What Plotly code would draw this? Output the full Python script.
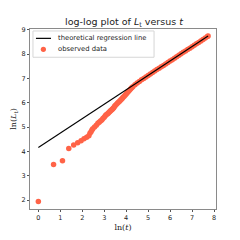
import plotly.graph_objects as go

# observed data (ln t, ln L_t)
obs_x = [0.0, 0.693, 1.099, 1.386, 1.609, 1.792, 1.946, 2.079,
         2.20, 2.30, 2.35, 2.40, 2.44, 2.48, 2.56, 2.64, 2.71, 2.77, 2.83, 2.89, 2.94,
         3.00, 3.05, 3.09, 3.14, 3.18, 3.22, 3.26, 3.30, 3.33, 3.37, 3.40, 3.43, 3.47,
         3.50, 3.56, 3.61, 3.66, 3.71, 3.76, 3.81, 3.85, 3.90, 3.95, 4.00, 4.05, 4.10,
         4.15, 4.20, 4.25, 4.30, 4.40, 4.50, 4.60, 4.70, 4.80, 4.90, 5.00, 5.10, 5.20,
         5.30, 5.40, 5.50, 5.60, 5.70, 5.80, 5.90, 6.00, 6.10, 6.20, 6.30, 6.40, 6.50,
         6.60, 6.70, 6.80, 6.90, 7.00, 7.10, 7.20, 7.30, 7.40, 7.50, 7.60, 7.70, 7.73]
obs_y = [1.94, 3.46, 3.61, 4.12, 4.26, 4.35, 4.44, 4.52,
         4.58, 4.64, 4.74, 4.81, 4.88, 4.93, 5.00, 5.07, 5.16, 5.20, 5.25, 5.29, 5.35,
         5.40, 5.46, 5.50, 5.54, 5.57, 5.61, 5.64, 5.68, 5.70, 5.73, 5.76, 5.79, 5.84,
         5.88, 5.94, 5.99, 6.03, 6.07, 6.12, 6.16, 6.21, 6.26, 6.31, 6.36, 6.41, 6.46,
         6.51, 6.56, 6.61, 6.66, 6.74, 6.81, 6.87, 6.94, 7.00, 7.06, 7.12, 7.18, 7.24,
         7.30, 7.36, 7.42, 7.48, 7.53, 7.59, 7.65, 7.71, 7.77, 7.83, 7.89, 7.95, 8.01,
         8.07, 8.13, 8.19, 8.24, 8.30, 8.36, 8.42, 8.48, 8.54, 8.60, 8.66, 8.72, 8.74]

# theoretical regression line endpoints
line_x = [0.0, 7.73]
line_y = [4.16, 8.74]

x_ticks = [0, 1, 2, 3, 4, 5, 6, 7, 8]
y_ticks = [2, 3, 4, 5, 6, 7, 8, 9]

legend_labels = ["theoretical regression line", "observed data"]
LINE_COLOR = "black"
DOT_COLOR = "#ff6347"

fig = go.Figure()
# scatter first so the line sits on top (matplotlib z-order)
fig.add_trace(go.Scatter(x=obs_x, y=obs_y, mode="markers",
                         marker=dict(color=DOT_COLOR, size=5.5, line=dict(width=0)),
                         name=legend_labels[1], showlegend=False))
fig.add_trace(go.Scatter(x=line_x, y=line_y, mode="lines",
                         line=dict(color=LINE_COLOR, width=1.1),
                         name=legend_labels[0], showlegend=False))

axis_common = dict(showgrid=False, zeroline=False, showline=True, mirror=True,
                   linecolor="#8a8a8a", linewidth=1.2, ticks="outside", ticklen=2,
                   tickcolor="#555", automargin=False,
                   tickfont=dict(size=6.5, color="#222", family="DejaVu Sans"))

# compact legend drawn in paper coordinates (matplotlib-like)
row_y = [0.948, 0.887]
fig.add_shape(type="rect", xref="paper", yref="paper", x0=0.016, x1=0.667,
              y0=0.843, y1=0.989, line=dict(color="#d6d6d6", width=1),
              fillcolor="rgba(255,255,255,0.85)", layer="above")
fig.add_shape(type="line", xref="paper", yref="paper", x0=0.032, x1=0.113,
              y0=row_y[0], y1=row_y[0], line=dict(color=LINE_COLOR, width=1.2),
              layer="above")
fig.add_shape(type="circle", xref="paper", yref="paper", x0=0.058, x1=0.086,
              y0=row_y[1] - 0.0145, y1=row_y[1] + 0.0145,
              line=dict(width=0), fillcolor=DOT_COLOR, layer="above")
for lab, yy in zip(legend_labels, row_y):
    fig.add_annotation(text=lab, xref="paper", yref="paper", x=0.14, y=yy,
                       xanchor="left", yanchor="middle", showarrow=False,
                       font=dict(size=6.8, family="DejaVu Sans", color="#222"))

fig.update_layout(
    width=232, height=232,
    margin=dict(l=22, r=24, t=21, b=31),
    paper_bgcolor="white", plot_bgcolor="white",
    title=dict(text="log-log plot of <i>L</i><sub>t</sub> versus <i>t</i>",
               x=0.5, xanchor="center", y=0.94, yanchor="middle",
               font=dict(size=9.5, family="DejaVu Sans", color="#222")),
    xaxis=dict(range=[-0.38, 8.09], tickvals=x_ticks,
               title=dict(text="ln(<i>t</i>)", standoff=3,
                          font=dict(size=8, family="DejaVu Serif", color="#222")),
               **axis_common),
    yaxis=dict(range=[1.63, 9.03], tickvals=y_ticks,
               title=dict(text="ln(<i>L</i><sub>t</sub>)", standoff=3,
                          font=dict(size=8, family="DejaVu Serif", color="#222")),
               **axis_common),
    showlegend=False,
)

fig.write_html("out.html")
